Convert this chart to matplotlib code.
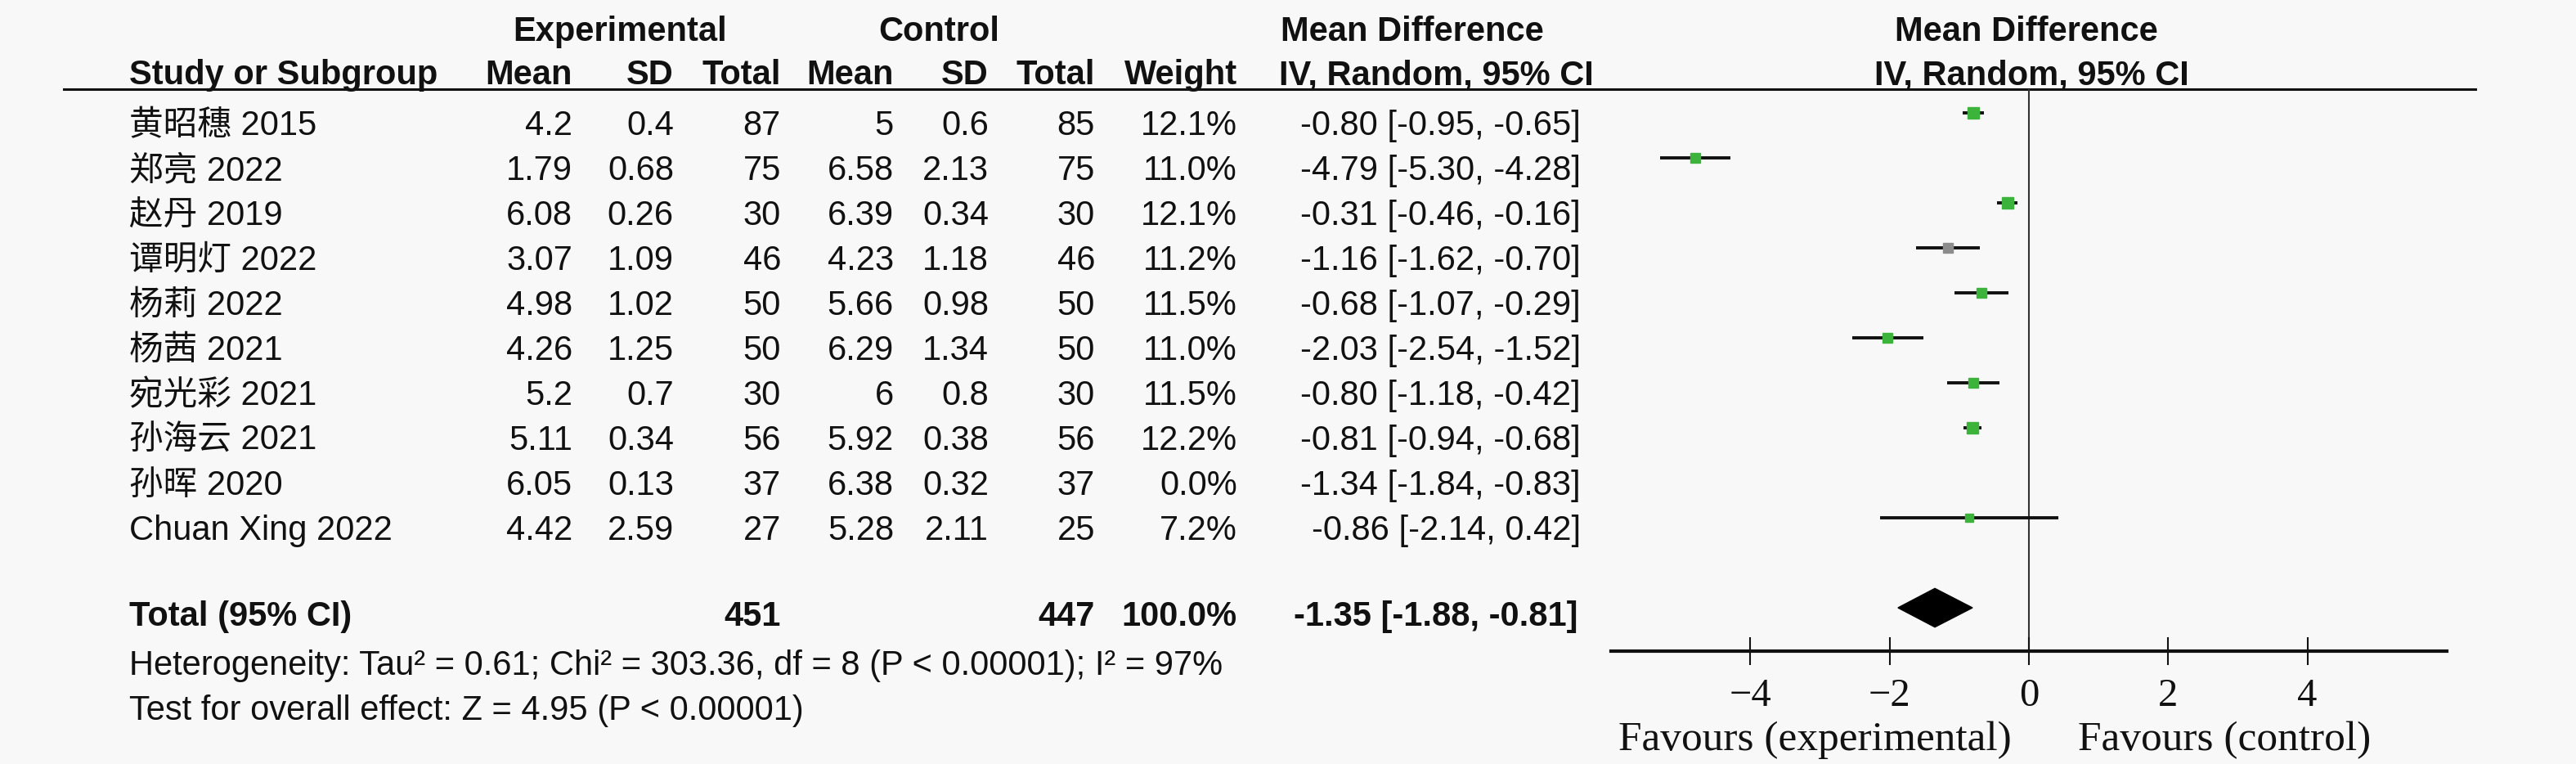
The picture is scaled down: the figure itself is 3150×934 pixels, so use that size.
import numpy as np
import matplotlib
matplotlib.use('Agg')
import matplotlib.pyplot as plt
from matplotlib.patches import Polygon
from matplotlib.lines import Line2D

# study data
studies = ['黄昭穗 2015', '郑亮 2022', '赵丹 2019', '谭明灯 2022', '杨莉 2022',
           '杨茜 2021', '宛光彩 2021', '孙海云 2021', '孙晖 2020', 'Chuan Xing 2022']
exp_mean = ['4.2', '1.79', '6.08', '3.07', '4.98', '4.26', '5.2', '5.11', '6.05', '4.42']
exp_sd = ['0.4', '0.68', '0.26', '1.09', '1.02', '1.25', '0.7', '0.34', '0.13', '2.59']
exp_n = [87, 75, 30, 46, 50, 50, 30, 56, 37, 27]
ctl_mean = ['5', '6.58', '6.39', '4.23', '5.66', '6.29', '6', '5.92', '6.38', '5.28']
ctl_sd = ['0.6', '2.13', '0.34', '1.18', '0.98', '1.34', '0.8', '0.38', '0.32', '2.11']
ctl_n = [85, 75, 30, 46, 50, 50, 30, 56, 37, 25]
weight = [12.1, 11.0, 12.1, 11.2, 11.5, 11.0, 11.5, 12.2, 0.0, 7.2]
md = [-0.80, -4.79, -0.31, -1.16, -0.68, -2.03, -0.80, -0.81, -1.34, -0.86]
ci_lo = [-0.95, -5.30, -0.46, -1.62, -1.07, -2.54, -1.18, -0.94, -1.84, -2.14]
ci_hi = [-0.65, -4.28, -0.16, -0.70, -0.29, -1.52, -0.42, -0.68, -0.83, 0.42]

total_exp, total_ctl = 451, 447
total_md, total_lo, total_hi = -1.35, -1.88, -0.81
het_text = 'Heterogeneity: Tau² = 0.61; Chi² = 303.36, df = 8 (P < 0.00001); I² = 97%'
test_text = 'Test for overall effect: Z = 4.95 (P < 0.00001)'
xticks = [-4, -2, 0, 2, 4]

W, H = 3150, 934
BG = '#f8f8f8'
SANS = ['Liberation Sans', 'Noto Sans CJK SC']
SERIF = ['Liberation Serif', 'DejaVu Serif']
FS = 30

fig = plt.figure(figsize=(W / 100, H / 100), dpi=100, facecolor=BG)

# table axes in pixel coordinates
tab = fig.add_axes([0, 0, 1, 1])
tab.set_xlim(0, W)
tab.set_ylim(H, 0)
tab.axis('off')
tab.set_facecolor(BG)


def put(x, y, s, ha='right', bold=False, **kw):
    tab.text(x, y, s, ha=ha, va='baseline', fontsize=FS, family=SANS,
             fontweight='bold' if bold else 'normal', color='#111111', **kw)


# headers
put(758, 50, 'Experimental', ha='center', bold=True)
put(1148, 50, 'Control', ha='center', bold=True)
put(1566, 50, 'Mean Difference', ha='left', bold=True)
put(2478, 50, 'Mean Difference', ha='center', bold=True)

col_x = [700, 824, 955, 1093, 1209, 1339, 1513]
hdr = ['Mean', 'SD', 'Total', 'Mean', 'SD', 'Total', 'Weight']
put(158, 103, 'Study or Subgroup', ha='left', bold=True)
for x, h in zip(col_x, hdr):
    put(x, 103, h, bold=True)
put(1564, 103, 'IV, Random, 95% CI', ha='left', bold=True)
put(2484, 103, 'IV, Random, 95% CI', ha='center', bold=True)

tab.add_line(Line2D([78, 3027], [109, 109], color='#111111', lw=2.2))

row0, step = 165, 55
for k, name in enumerate(studies):
    y = row0 + step * k
    put(158, y, name, ha='left')
    vals = [exp_mean[k], exp_sd[k], str(exp_n[k]), ctl_mean[k], ctl_sd[k],
            str(ctl_n[k]), f'{weight[k]:.1f}%']
    for x, v in zip(col_x, vals):
        put(x, y, v)
    put(1933, y, f'{md[k]:.2f} [{ci_lo[k]:.2f}, {ci_hi[k]:.2f}]')

ty = 765
put(158, ty, 'Total (95% CI)', ha='left', bold=True)
put(col_x[2], ty, str(total_exp), bold=True)
put(col_x[5], ty, str(total_ctl), bold=True)
put(col_x[6], ty, '100.0%', bold=True)
put(1930, ty, f'{total_md:.2f} [{total_lo:.2f}, {total_hi:.2f}]', bold=True)
put(158, 825, het_text, ha='left')
put(158, 880, test_text, ha='left')

# forest plot axes
x0, x1 = 1970, 2992
ytop, ybot = 109, 796
ax = fig.add_axes([x0 / W, (H - ybot) / H, (x1 - x0) / W, (ybot - ytop) / H])
ax.set_facecolor('none')
first = 138
ax.set_xlim(-6, 6)
ax.set_ylim((ybot - first) / step, (ytop - first) / step)
for s in ['top', 'left', 'right']:
    ax.spines[s].set_visible(False)
ax.spines['bottom'].set_linewidth(3.0)
ax.spines['bottom'].set_color('#111111')
ax.set_yticks([])
ax.set_xticks(xticks)
ax.tick_params(axis='x', direction='inout', length=24, width=1.5, pad=12,
               labelsize=35, colors='#111111')
for lab in ax.get_xticklabels():
    lab.set_family(SERIF)
ax.axvline(0, color='#333333', lw=1.5, zorder=1)

for k in range(len(studies)):
    if weight[k] <= 0:
        continue
    ax.plot([ci_lo[k], ci_hi[k]], [k, k], color='#111111', lw=2.8,
            solid_capstyle='butt', zorder=2)
    ms = 9.5 * np.sqrt(weight[k] / 12.1)
    col = '#8c8c8c' if k == 3 else '#3cb43c'
    ax.plot(md[k], k, marker='s', ms=ms, color=col, mec=col, zorder=3)

ky = len(studies) + 1
dh = 0.43
ax.add_patch(Polygon([[total_lo, ky], [total_md, ky - dh], [total_hi, ky],
                      [total_md, ky + dh]], closed=True, fc='black', ec='black',
                     zorder=3))

tab.text(2219, 917, 'Favours (experimental)', ha='center', va='baseline',
         fontsize=37, family=SERIF, color='#111111')
tab.text(2720, 917, 'Favours (control)', ha='center', va='baseline',
         fontsize=37, family=SERIF, color='#111111')

fig.savefig('out.png', dpi=100, facecolor=BG)
